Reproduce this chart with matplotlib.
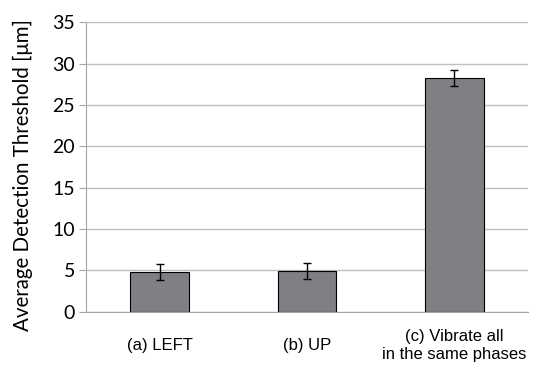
import matplotlib.pyplot as plt
import numpy as np

# data
labels = ["(a) LEFT", "(b) UP", "(c) Vibrate all\nin the same phases"]
values = [4.8, 4.9, 28.3]
errors = [1.0, 1.0, 0.95]
y_ticks = [0, 5, 10, 15, 20, 25, 30, 35]

fig = plt.figure(figsize=(5.35, 3.67), dpi=100)
ax = fig.add_axes([86 / 535, 1 - 311.7 / 367, (528 - 86) / 535, (311.7 - 22.3) / 367])

x = np.arange(len(labels))
ax.bar(x, values, width=0.4, color="#808084", edgecolor="black", linewidth=0.8, zorder=3)
ax.errorbar(x, values, yerr=errors, fmt="none", ecolor="black", elinewidth=1,
            capsize=3, capthick=1, zorder=4)

ax.set_xlim(-0.5, 2.5)
ax.set_ylim(0, 35)
ax.set_yticks(y_ticks)
ax.yaxis.grid(True, color="#bfbfbf", linewidth=1, zorder=0)
ax.set_axisbelow(True)

for s in ["top", "right"]:
    ax.spines[s].set_visible(False)
ax.spines["left"].set_color("#a6a6a6")
ax.spines["bottom"].set_color("#a6a6a6")

ax.tick_params(axis="y", length=5, color="#a6a6a6", labelsize=14, pad=3)
ax.tick_params(axis="x", length=0, pad=24)
for t in ax.get_yticklabels():
    t.set_family(["Lato", "DejaVu Sans"])

ax.set_xticks(x)
ax.set_xticklabels(labels, family="Liberation Sans", fontsize=12, linespacing=1.25, va="center")

# y label placed by hand, like the reference
fig.text(23 / 535, 1 - 175 / 367, "Average Detection Threshold [μm]", rotation=90,
         ha="center", va="center", fontsize=14.8, family=["Lato", "DejaVu Sans"])

fig.savefig("out.png", dpi=100)
